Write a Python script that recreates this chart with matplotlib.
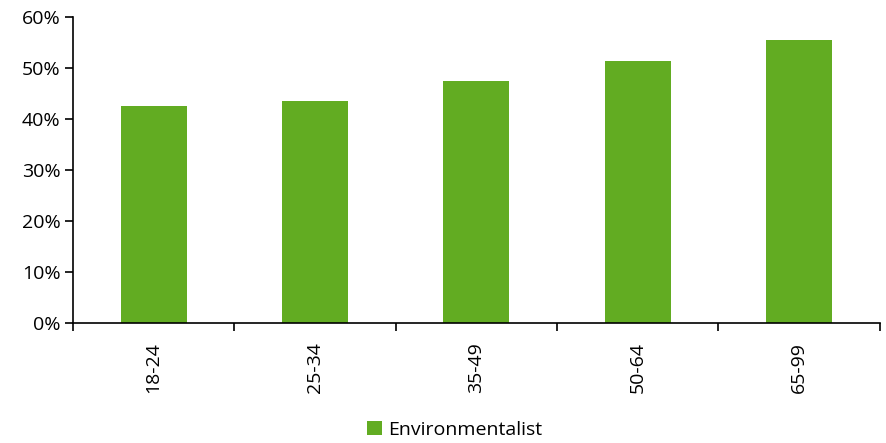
import numpy as np
import matplotlib.pyplot as plt
from matplotlib.ticker import PercentFormatter, FixedLocator

age_groups = ['18-24', '25-34', '35-49', '50-64', '65-99']
environmentalist = [42.5, 43.5, 47.5, 51.3, 55.4]

plt.rcParams['font.family'] = ['Open Sans', 'DejaVu Sans']

fig = plt.figure(figsize=(8.86, 4.43), dpi=100)
ax = fig.add_axes([0.0824, 0.271, 0.9106, 0.691])

x = np.arange(len(age_groups))
ax.bar(x, environmentalist, width=0.41, color='#62AC22', label='Environmentalist')

ax.set_xlim(-0.5, len(age_groups) - 0.5)
ax.set_ylim(0, 60)
ax.set_yticks(range(0, 61, 10))
ax.yaxis.set_major_formatter(PercentFormatter(decimals=0))

# category labels centred, tick marks on boundaries
ax.set_xticks(x)
ax.set_xticklabels(age_groups, rotation=90, fontsize=14)
ax.tick_params(axis='x', which='major', length=0, pad=14)
ax.xaxis.set_minor_locator(FixedLocator(np.arange(-0.5, len(age_groups), 1.0)))
ax.tick_params(axis='x', which='minor', length=6, width=1.2, direction='out')
ax.tick_params(axis='y', labelsize=14, length=6, width=1.2, direction='out', pad=3)

for side in ['top', 'right']:
    ax.spines[side].set_visible(False)
for side in ['left', 'bottom']:
    ax.spines[side].set_linewidth(1.2)

leg = fig.legend(loc='lower center', bbox_to_anchor=(0.513, -0.03), frameon=False,
                 fontsize=14, handlelength=0.8, handleheight=0.8, handletextpad=0.3)

fig.savefig('out.png', dpi=100)
